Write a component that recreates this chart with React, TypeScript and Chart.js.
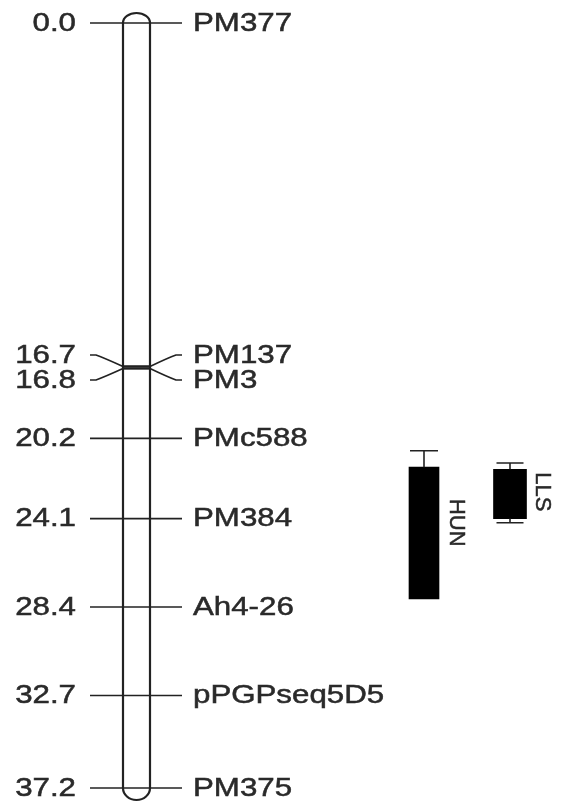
import React, { useEffect, useRef } from "react";
import { Chart, registerables } from "chart.js";

Chart.register(...registerables);

// ---- data ----
const markerNames = ["PM377", "PM137", "PM3", "PMc588", "PM384", "Ah4-26", "pPGPseq5D5", "PM375"];
const markerPositions = [0.0, 16.7, 16.8, 20.2, 24.1, 28.4, 32.7, 37.2];
const qtlNames = ["HUN", "LLS"];
const qtlStart = [21.6, 21.7];
const qtlEnd = [28.0, 24.1];
const qtlOuterStart = [20.8, 21.4];
const qtlOuterEnd = [28.0, 24.3];
const qtlLabelPos = [24.3, 22.8];

// ---- layout (not data) ----
const W = 564;
const H = 803;
const CHROM_X = 136.5;
const CHROM_HALF = 13.5;
const TICK_L = 90;
const TICK_R = 182;
const LEFT_TEXT_X = 76;
const RIGHT_TEXT_X = 193;
const QTL_X = [424, 510];
const QTL_W = [30, 33];
const CAP_HALF = [14, 13.5];
const QTL_TEXT_X = [447, 533];
const Y_MIN = -1.1184;
const Y_MAX = 37.93;
const FONT = "25px 'Liberation Sans', Arial, sans-serif";
const QFONT = "22px 'Liberation Sans', Arial, sans-serif";
const INK = "#222";
const TXT = "#2a2a2a";

function spread(ys: number[], gap: number): number[] {
  let clusters = ys.map((y) => ({ items: [y], center: y }));
  let changed = true;
  while (changed) {
    changed = false;
    for (let i = 0; i < clusters.length - 1; i++) {
      const a = clusters[i];
      const b = clusters[i + 1];
      const aBottom = a.center + ((a.items.length - 1) * gap) / 2;
      const bTop = b.center - ((b.items.length - 1) * gap) / 2;
      if (bTop - aBottom < gap - 0.01) {
        const items = a.items.concat(b.items);
        const center = items.reduce((s, v) => s + v, 0) / items.length;
        clusters.splice(i, 2, { items, center });
        changed = true;
        break;
      }
    }
  }
  const out: number[] = [];
  clusters.forEach((c) => {
    const n = c.items.length;
    for (let k = 0; k < n; k++) out.push(c.center + (k - (n - 1) / 2) * gap);
  });
  return out;
}

function stretchedText(ctx: CanvasRenderingContext2D, s: string, x: number, y: number, align: CanvasTextAlign) {
  ctx.save();
  ctx.translate(x, y);
  ctx.scale(1.25, 1);
  ctx.textAlign = align;
  ctx.textBaseline = "middle";
  ctx.fillText(s, 0, 1);
  ctx.lineWidth = 0.5;
  ctx.strokeStyle = TXT;
  ctx.strokeText(s, 0, 1);
  ctx.restore();
}

const mapPlugin = {
  id: "linkageMap",
  beforeDatasetsDraw(chart: any) {
    const ctx: CanvasRenderingContext2D = chart.ctx;
    const xs = chart.scales.x;
    const ys = chart.scales.y;
    const cx = xs.getPixelForValue(CHROM_X);
    const cl = xs.getPixelForValue(CHROM_X - CHROM_HALF);
    const cr = xs.getPixelForValue(CHROM_X + CHROM_HALF);
    const top = ys.getPixelForValue(markerPositions[0]);
    const bot = ys.getPixelForValue(markerPositions[markerPositions.length - 1]);
    ctx.save();
    // chromosome
    ctx.strokeStyle = INK;
    ctx.lineWidth = 2.2;
    ctx.beginPath();
    ctx.moveTo(cl, top);
    ctx.lineTo(cl, bot);
    ctx.moveTo(cr, top);
    ctx.lineTo(cr, bot);
    ctx.stroke();
    ctx.beginPath();
    ctx.ellipse(cx, top, (cr - cl) / 2, 10, 0, Math.PI, 2 * Math.PI);
    ctx.stroke();
    ctx.beginPath();
    ctx.ellipse(cx, bot, (cr - cl) / 2, 12, 0, 0, Math.PI);
    ctx.stroke();

    // ticks & labels
    const my = markerPositions.map((p) => ys.getPixelForValue(p));
    const ly = spread(my, 25);
    const tl = xs.getPixelForValue(TICK_L);
    const tr = xs.getPixelForValue(TICK_R);
    ctx.lineWidth = 1.6;
    ctx.strokeStyle = INK;
    my.forEach((y, i) => {
      const l = ly[i];
      ctx.beginPath();
      if (Math.abs(l - y) < 0.5) {
        ctx.moveTo(tl, y);
        ctx.lineTo(tr, y);
        ctx.stroke();
      } else {
        ctx.moveTo(tl, l);
        ctx.lineTo(tl + 6, l);
        ctx.quadraticCurveTo(tl + 14, l + (y - l) * 0.25, cl, y);
        ctx.moveTo(cr, y);
        ctx.quadraticCurveTo(tr - 14, l + (y - l) * 0.25, tr - 6, l);
        ctx.lineTo(tr, l);
        ctx.stroke();
        ctx.save();
        ctx.lineWidth = 2.4;
        ctx.beginPath();
        ctx.moveTo(cl, y);
        ctx.lineTo(cr, y);
        ctx.stroke();
        ctx.restore();
      }
    });
    ctx.fillStyle = TXT;
    ctx.font = FONT;
    markerPositions.forEach((p, i) => {
      stretchedText(ctx, p.toFixed(1), xs.getPixelForValue(LEFT_TEXT_X), ly[i], "right");
      stretchedText(ctx, markerNames[i], xs.getPixelForValue(RIGHT_TEXT_X), ly[i], "left");
    });
    ctx.restore();
  },
  afterDatasetsDraw(chart: any) {
    const ctx: CanvasRenderingContext2D = chart.ctx;
    const xs = chart.scales.x;
    const ys = chart.scales.y;
    ctx.save();
    ctx.strokeStyle = INK;
    ctx.lineWidth = 1.6;
    qtlNames.forEach((name, i) => {
      const x = xs.getPixelForValue(QTL_X[i]);
      const h = CAP_HALF[i];
      const pairs: [number, number][] = [
        [qtlOuterStart[i], qtlStart[i]],
        [qtlOuterEnd[i], qtlEnd[i]],
      ];
      pairs.forEach(([o, b]) => {
        if (Math.abs(o - b) < 1e-6) return;
        const yo = ys.getPixelForValue(o);
        const yb = ys.getPixelForValue(b);
        ctx.beginPath();
        ctx.moveTo(x, yb);
        ctx.lineTo(x, yo);
        ctx.moveTo(x - h, yo);
        ctx.lineTo(x + h, yo);
        ctx.stroke();
      });
      ctx.save();
      ctx.fillStyle = TXT;
      ctx.strokeStyle = TXT;
      ctx.lineWidth = 0.5;
      ctx.font = QFONT;
      ctx.translate(xs.getPixelForValue(QTL_TEXT_X[i]), ys.getPixelForValue(qtlLabelPos[i]));
      ctx.rotate(Math.PI / 2);
      ctx.textAlign = "center";
      ctx.textBaseline = "bottom";
      ctx.fillText(name, 0, 2);
      ctx.strokeText(name, 0, 2);
      ctx.restore();
    });
    ctx.restore();
  },
};

export default function App() {
  const ref = useRef<HTMLCanvasElement | null>(null);
  useEffect(() => {
    if (!ref.current) return;
    const chart = new Chart(ref.current, {
      type: "bar",
      data: {
        datasets: qtlNames.map((name, i) => ({
          label: name,
          data: [{ x: QTL_X[i], y: [qtlStart[i], qtlEnd[i]] }] as any,
          backgroundColor: "#000",
          borderWidth: 0,
          barThickness: QTL_W[i],
          grouped: false,
        })),
      },
      options: {
        animation: false,
        responsive: false,
        maintainAspectRatio: false,
        layout: { padding: 0 },
        plugins: { legend: { display: false }, tooltip: { enabled: false } },
        scales: {
          x: { type: "linear", min: 0, max: W, offset: false, display: false },
          y: { type: "linear", min: Y_MIN, max: Y_MAX, reverse: true, display: false },
        },
      },
      plugins: [mapPlugin],
    });
    return () => chart.destroy();
  }, []);
  return (
    <div style={{ position: "absolute", left: 0, top: 0, width: W, height: H, background: "#fff" }}>
      <canvas ref={ref} width={W} height={H} style={{ display: "block" }} />
    </div>
  );
}
